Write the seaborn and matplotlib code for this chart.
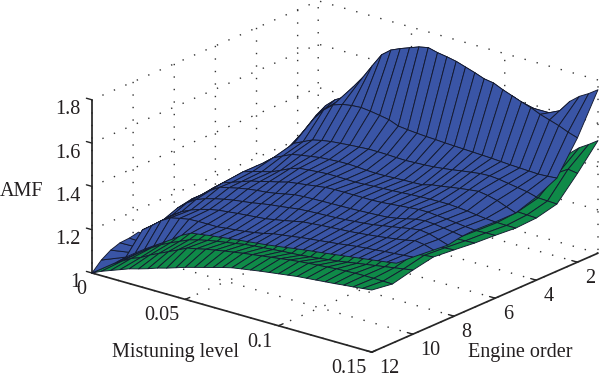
import numpy as np
import matplotlib
matplotlib.use("Agg")
import matplotlib.pyplot as plt
import seaborn as sns
from mpl_toolkits.mplot3d import proj3d

# ---------- data ----------
mistuning = [0, .005, .01, .015, .02, .025, .03, .035, .04, .045, .05, .055, .06, .065, .07, .075,
             .08, .085, .09, .095, .1, .105, .11, .115, .12, .125, .13, .135, .14, .145, .15]
mistuning_front = [0, .005, .01, .015, .02, .025]

blue_orders = [1, 2, 3, 4, 5, 6, 7, 7.6, 8.3, 9, 10, 10.8]
blue_front_orders = [10.8, 12]
green_orders = [1, 2, 3, 4, 5, 6, 7, 8, 9, 10, 11, 12]

blue_1 = [1, 1.12, 1.25, 1.31, 1.36, 1.40, 1.44, 1.48, 1.52, 1.55, 1.58, 1.60, 1.61, 1.62, 1.62, 1.62, 1.62, 1.62, 1.61, 1.60, 1.59, 1.58, 1.57, 1.575, 1.575, 1.585, 1.61, 1.665, 1.70, 1.725, 1.755]
blue_2 = [1, 1.17, 1.338, 1.394, 1.433, 1.458, 1.519, 1.574, 1.639, 1.702, 1.736, 1.755, 1.771, 1.787, 1.796, 1.785, 1.778, 1.769, 1.755, 1.741, 1.725, 1.718, 1.699, 1.683, 1.667, 1.653, 1.634, 1.62, 1.606, 1.588, 1.574]
blue_3 = [1, 1.12, 1.26, 1.324, 1.39, 1.44, 1.475, 1.49, 1.497, 1.50, 1.495, 1.488, 1.48, 1.463, 1.458, 1.454, 1.451, 1.449, 1.446, 1.444, 1.442, 1.44, 1.438, 1.436, 1.433, 1.43, 1.428, 1.426, 1.424, 1.426, 1.43]
blue_4 = [1, 1.09, 1.18, 1.264, 1.315, 1.335, 1.355, 1.365, 1.372, 1.376, 1.38, 1.383, 1.386, 1.386, 1.385, 1.383, 1.382, 1.384, 1.386, 1.389, 1.394, 1.40, 1.407, 1.413, 1.419, 1.421, 1.417, 1.41, 1.403, 1.396, 1.384]
blue_5 = [1, 1.09, 1.18, 1.255, 1.29, 1.31, 1.33, 1.338, 1.345, 1.352, 1.355, 1.358, 1.359, 1.357, 1.354, 1.352, 1.353, 1.355, 1.357, 1.358, 1.36, 1.372, 1.378, 1.385, 1.392, 1.398, 1.403, 1.396, 1.385, 1.368, 1.352]
blue_6 = [1, 1.13, 1.218, 1.255, 1.268, 1.28, 1.291, 1.31, 1.33, 1.344, 1.348, 1.352, 1.355, 1.355, 1.354, 1.353, 1.355, 1.358, 1.36, 1.362, 1.365, 1.368, 1.37, 1.372, 1.373, 1.373, 1.37, 1.366, 1.36, 1.355, 1.352]
blue_7 = [1, 1.17, 1.21, 1.245, 1.26, 1.275, 1.29, 1.30, 1.312, 1.322, 1.334, 1.34, 1.346, 1.352, 1.358, 1.36, 1.36, 1.36, 1.36, 1.36, 1.362, 1.366, 1.37, 1.374, 1.378, 1.378, 1.374, 1.37, 1.365, 1.36, 1.356]
blue_8 = [1, 1.171, 1.202, 1.235, 1.262, 1.272, 1.282, 1.29, 1.296, 1.30, 1.307, 1.316, 1.325, 1.328, 1.33, 1.331, 1.332, 1.333, 1.334, 1.336, 1.338, 1.34, 1.343, 1.35, 1.36, 1.37, 1.375, 1.372, 1.366, 1.36, 1.353]
blue_9 = [1, 1.158, 1.194, 1.222, 1.238, 1.25, 1.26, 1.268, 1.274, 1.28, 1.288, 1.295, 1.30, 1.306, 1.312, 1.315, 1.317, 1.319, 1.321, 1.324, 1.328, 1.332, 1.337, 1.345, 1.352, 1.36, 1.368, 1.374, 1.368, 1.355, 1.341]
blue_10 = [1, 1.132, 1.167, 1.195, 1.215, 1.23, 1.242, 1.25, 1.255, 1.26, 1.264, 1.268, 1.272, 1.28, 1.288, 1.297, 1.306, 1.31, 1.314, 1.317, 1.32, 1.323, 1.327, 1.332, 1.337, 1.343, 1.349, 1.356, 1.366, 1.36, 1.347]
blue_11 = [1, 1.128, 1.16, 1.195, 1.22, 1.23, 1.238, 1.24, 1.24, 1.24, 1.245, 1.25, 1.255, 1.262, 1.27, 1.281, 1.287, 1.293, 1.30, 1.305, 1.31, 1.315, 1.32, 1.326, 1.332, 1.336, 1.34, 1.345, 1.348, 1.352, 1.356]
blue_12 = [1, 1.036, 1.067, 1.097, 1.125, 1.152, 1.18, 1.21, 1.232, 1.238, 1.245, 1.25, 1.256, 1.261, 1.266, 1.271, 1.276, 1.282, 1.288, 1.295, 1.301, 1.307, 1.312, 1.318, 1.324, 1.33, 1.336, 1.342, 1.348, 1.354, 1.361]
blue_front_a = [1, 1.036, 1.067, 1.097, 1.125, 1.152]
blue_front_b = [1, 1.072, 1.13, 1.176, 1.21, 1.25]

green_1 = [1, 1.05, 1.10, 1.14, 1.17, 1.195, 1.215, 1.232, 1.246, 1.258, 1.268, 1.277, 1.285, 1.293, 1.30, 1.307, 1.314, 1.32, 1.326, 1.332, 1.338, 1.344, 1.35, 1.356, 1.362, 1.37, 1.39, 1.426, 1.463, 1.49, 1.52]
green_2 = [1, 1.05, 1.095, 1.13, 1.16, 1.185, 1.205, 1.222, 1.236, 1.248, 1.258, 1.267, 1.275, 1.283, 1.29, 1.297, 1.303, 1.309, 1.315, 1.321, 1.327, 1.333, 1.339, 1.345, 1.351, 1.357, 1.365, 1.375, 1.39, 1.417, 1.41]
green_3 = [1, 1.045, 1.09, 1.125, 1.155, 1.178, 1.197, 1.213, 1.226, 1.238, 1.248, 1.256, 1.263, 1.27, 1.276, 1.282, 1.287, 1.292, 1.297, 1.301, 1.305, 1.308, 1.311, 1.313, 1.315, 1.316, 1.316, 1.315, 1.314, 1.312, 1.31]
green_4 = [1, 1.045, 1.088, 1.122, 1.15, 1.172, 1.19, 1.205, 1.218, 1.229, 1.238, 1.246, 1.253, 1.259, 1.265, 1.27, 1.274, 1.278, 1.281, 1.284, 1.287, 1.289, 1.291, 1.292, 1.293, 1.293, 1.293, 1.292, 1.291, 1.289, 1.287]
green_5 = [1, 1.042, 1.085, 1.118, 1.146, 1.168, 1.186, 1.2, 1.213, 1.224, 1.232, 1.24, 1.246, 1.252, 1.257, 1.262, 1.266, 1.27, 1.273, 1.276, 1.278, 1.28, 1.281, 1.282, 1.283, 1.283, 1.283, 1.283, 1.283, 1.282, 1.282]
green_6 = [1, 1.042, 1.084, 1.116, 1.143, 1.165, 1.182, 1.196, 1.208, 1.218, 1.226, 1.233, 1.24, 1.246, 1.251, 1.256, 1.26, 1.264, 1.267, 1.27, 1.273, 1.275, 1.277, 1.279, 1.281, 1.283, 1.285, 1.286, 1.287, 1.289, 1.29]
green_7 = [1, 1.04, 1.082, 1.114, 1.14, 1.161, 1.178, 1.192, 1.204, 1.214, 1.222, 1.229, 1.235, 1.241, 1.246, 1.251, 1.255, 1.259, 1.262, 1.266, 1.269, 1.272, 1.275, 1.278, 1.281, 1.284, 1.287, 1.289, 1.292, 1.294, 1.296]
green_8 = [1, 1.04, 1.08, 1.112, 1.137, 1.158, 1.174, 1.187, 1.198, 1.207, 1.215, 1.222, 1.228, 1.234, 1.239, 1.245, 1.25, 1.255, 1.26, 1.264, 1.269, 1.273, 1.277, 1.282, 1.286, 1.29, 1.294, 1.297, 1.3, 1.303, 1.306]
green_9 = [1, 1.04, 1.08, 1.11, 1.135, 1.155, 1.17, 1.182, 1.192, 1.20, 1.207, 1.213, 1.219, 1.224, 1.23, 1.235, 1.24, 1.245, 1.25, 1.255, 1.26, 1.266, 1.272, 1.278, 1.284, 1.29, 1.295, 1.30, 1.305, 1.31, 1.315]
green_10 = [1, 1.03, 1.058, 1.084, 1.105, 1.124, 1.143, 1.155, 1.165, 1.173, 1.18, 1.187, 1.195, 1.2, 1.204, 1.208, 1.212, 1.215, 1.218, 1.223, 1.228, 1.234, 1.24, 1.247, 1.254, 1.261, 1.268, 1.275, 1.282, 1.289, 1.296]
green_11 = [1, 1.025, 1.05, 1.066, 1.09, 1.11, 1.13, 1.15, 1.171, 1.18, 1.19, 1.198, 1.206, 1.213, 1.22, 1.226, 1.232, 1.238, 1.244, 1.25, 1.255, 1.259, 1.263, 1.266, 1.27, 1.272, 1.274, 1.275, 1.275, 1.274, 1.273]
green_12 = [1, 1.02, 1.036, 1.052, 1.068, 1.08, 1.093, 1.108, 1.12, 1.134, 1.148, 1.16, 1.172, 1.184, 1.196, 1.207, 1.214, 1.221, 1.228, 1.234, 1.24, 1.246, 1.252, 1.256, 1.26, 1.264, 1.268, 1.273, 1.277, 1.282, 1.287]

x_ticks = [0, .05, .1, .15]
x_labels = ["0", "0.05", "0.1", "0.15"]
y_ticks = [2, 4, 6, 8, 10, 12]
y_labels = ["2", "4", "6", "8", "10", "12"]
z_ticks = [1, 1.2, 1.4, 1.6, 1.8]
z_labels = ["1", "1.2", "1.4", "1.6", "1.8"]

BLUE = "#3A55A6"
GREEN = "#0F8A48"
EDGE = "#141a30"
INK = "#231f20"
W, H = 600, 383

sns.set_theme(style="white")
plt.rcParams["font.family"] = ["Liberation Serif", "DejaVu Serif"]
plt.rcParams["text.color"] = INK

fig = plt.figure(figsize=(W / 100, H / 100), dpi=100)
ax = fig.add_subplot(projection="3d", proj_type="ortho", computed_zorder=False)
fig.patch.set_facecolor("white")
ax.patch.set_alpha(0)

ax.set_xlim(0, .15, view_margin=0)
ax.set_ylim(12, 1, view_margin=0)
ax.set_zlim(1, 1.8, view_margin=0)
ax.view_init(elev=20.6, azim=-51.2)
aspect = (359, 361, 185)
ax.set_box_aspect(aspect)

def surface(xs, ys, rows, color, order):
    X, Y = np.meshgrid(xs, ys)
    ax.plot_surface(X, Y, np.array(rows), rstride=1, cstride=1, color=color, shade=False,
                    edgecolor=EDGE, linewidth=0.65, antialiased=True, zorder=order)

surface(mistuning, green_orders,
        [green_1, green_2, green_3, green_4, green_5, green_6, green_7, green_8, green_9,
         green_10, green_11, green_12], GREEN, 2)
surface(mistuning_front, blue_front_orders, [blue_front_a, blue_front_b], BLUE, 3)
surface(mistuning, blue_orders,
        [blue_1, blue_2, blue_3, blue_4, blue_5, blue_6, blue_7, blue_8, blue_9, blue_10,
         blue_11, blue_12], BLUE, 4)

ax.set_xticks(x_ticks, x_labels, ha="right")
ax.set_yticks(y_ticks, y_labels, ha="left")
ax.set_zticks(z_ticks, z_labels, ha="right")
ax.zaxis.set_ticks_position("upper")
ax.tick_params(axis="both", labelsize=14.5, labelcolor=INK)
ax.tick_params(axis="x", pad=0)
ax.tick_params(axis="y", pad=0.5)
ax.tick_params(axis="z", pad=-1)

for axis in (ax.xaxis, ax.yaxis, ax.zaxis):
    axis.set_pane_color((1, 1, 1, 0))
    axis.pane.set_edgecolor((1, 1, 1, 0))
    axis._axinfo["grid"].update(color="#333333", linewidth=1.0, linestyle=(0, (1, 8)))
    axis._axinfo["tick"].update(inward_factor=0.0, outward_factor=0.25, linewidth={True: 1.0, False: 1.0},
                                color=INK)
    axis._axinfo["axisline"].update(color=INK, linewidth=1.0)
ax.grid(True)

# place the box: same scale and corner as the reference
ax.set_position([-0.2, -0.6, 1.4, 2.2])

def pixel(x, y, z):
    px, py, _ = proj3d.proj_transform(x, y, z, ax.get_proj())
    dx, dy = ax.transData.transform((px, py))
    return np.array([dx, H - dy])

fig.canvas.draw()
span = np.linalg.norm(pixel(.15, 1, 1) - pixel(0, 12, 1))
ax.set_box_aspect(aspect, zoom=np.hypot(506, 20) / span)
fig.canvas.draw()
off = np.array([92, 273]) - pixel(0, 12, 1)
pos = ax.get_position(original=True)
ax.set_position([pos.x0 + off[0] / W, pos.y0 - off[1] / H, pos.width, pos.height])

fig.text(22 / W, 1 - 192 / H, "AMF", ha="center", va="center", fontsize=14.5)
fig.text(175 / W, 1 - 352 / H, "Mistuning level", ha="center", va="center", fontsize=14.5)
fig.text(520 / W, 1 - 352 / H, "Engine order", ha="center", va="center", fontsize=14.5)

fig.savefig("out.png", dpi=100)
